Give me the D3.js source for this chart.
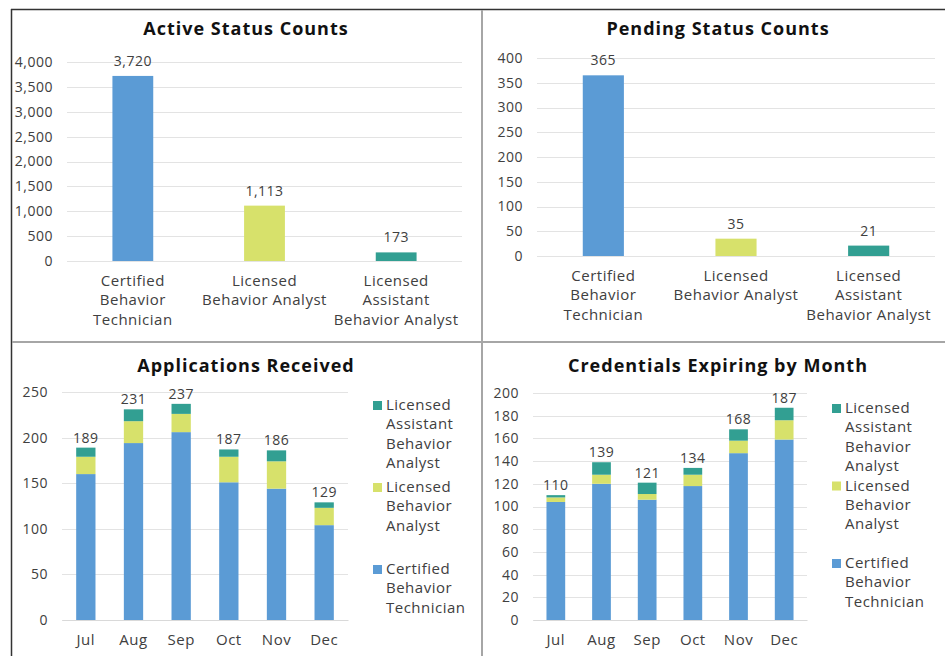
<!DOCTYPE html>
<html>
<head>
<meta charset="utf-8">
<script src="https://cdn.jsdelivr.net/npm/d3@7"></script>
<style>
  body { margin: 0; background: #fff; }
  svg text { font-family: "Open Sans", sans-serif; fill: #404040; letter-spacing: 0.5px; }
  .title { font-weight: 700; fill: #111; letter-spacing: 1px; }
  .grid line { stroke: #e3e3e3; }
</style>
</head>
<body>
<svg id="chart" width="945" height="656"></svg>
<script>
// --- data ---
const credentialTypes = ["Certified Behavior Technician", "Licensed Behavior Analyst", "Licensed Assistant Behavior Analyst"];
const axisLabelLines = [["Certified", "Behavior", "Technician"], ["Licensed", "Behavior Analyst"], ["Licensed", "Assistant", "Behavior Analyst"]];
const legendLabelLines = [["Licensed", "Assistant", "Behavior", "Analyst"], ["Licensed", "Behavior", "Analyst"], ["Certified", "Behavior", "Technician"]];

const activeCounts = [3720, 1113, 173];
const pendingCounts = [365, 35, 21];

const months = ["Jul", "Aug", "Sep", "Oct", "Nov", "Dec"];
const appsCBT = [160, 194, 206, 151, 144, 104];
const appsLBA = [19, 24, 20, 28, 30, 19];
const appsLABA = [10, 13, 11, 8, 12, 6];
const expCBT = [104, 120, 106, 118, 147, 159];
const expLBA = [4, 8, 5, 10, 11, 17];
const expLABA = [2, 11, 10, 6, 10, 11];

const colors = { "Certified Behavior Technician": "#5b9bd5", "Licensed Behavior Analyst": "#d7e16b", "Licensed Assistant Behavior Analyst": "#329f92" };

const svg = d3.select("#chart");

// panel frame
svg.append("line").attr("x1", 11).attr("x2", 945).attr("y1", 9.5).attr("y2", 9.5).attr("stroke", "#333").attr("stroke-width", 1.5);
svg.append("line").attr("x1", 11.5).attr("x2", 11.5).attr("y1", 9).attr("y2", 656).attr("stroke", "#333").attr("stroke-width", 1.5);
svg.append("line").attr("x1", 482).attr("x2", 482).attr("y1", 10).attr("y2", 656).attr("stroke", "#a6a6a6").attr("stroke-width", 2);
svg.append("line").attr("x1", 12).attr("x2", 945).attr("y1", 342).attr("y2", 342).attr("stroke", "#a6a6a6").attr("stroke-width", 2);

function yAxisGrid(g, y, x0, x1, ticks, fmt) {
  g.append("g").attr("class", "grid")
    .selectAll("line").data(ticks).join("line")
    .attr("x1", x0).attr("x2", x1)
    .attr("y1", d => Math.round(y(d)) + 0.5).attr("y2", d => Math.round(y(d)) + 0.5);
  const ax = g.append("g").attr("transform", `translate(${x0},0)`)
    .call(d3.axisLeft(y).tickValues(ticks).tickFormat(fmt).tickSize(0).tickPadding(14));
  ax.select(".domain").remove();
  ax.selectAll("text").style("font-size", "14px").attr("fill", "#404040");
}

// simple bar chart
function drawBars(p) {
  const g = svg.append("g");
  g.append("text").attr("class", "title").attr("x", p.titleX).attr("y", p.titleY)
    .attr("text-anchor", "middle").style("font-size", "18px").text(p.title);

  const x = d3.scaleBand().domain(credentialTypes).range([p.x0, p.x1]).paddingInner(0.69).paddingOuter(0.345);
  const y = d3.scaleLinear().domain(p.domain).range([p.y0, p.y1]);
  yAxisGrid(g, y, p.x0, p.x1, p.ticks, d3.format(","));

  g.selectAll("rect.bar").data(p.values).join("rect").attr("class", "bar")
    .attr("x", (d, i) => x(credentialTypes[i])).attr("width", x.bandwidth())
    .attr("y", d => y(d)).attr("height", d => y(0) - y(d))
    .attr("fill", (d, i) => colors[credentialTypes[i]]);

  g.selectAll("text.val").data(p.values).join("text").attr("class", "val")
    .attr("x", (d, i) => x(credentialTypes[i]) + x.bandwidth() / 2).attr("y", d => y(d) - 10)
    .attr("text-anchor", "middle").style("font-size", "14px").text(d3.format(","));

  // category labels
  const lab = g.selectAll("text.cat").data(axisLabelLines).join("text").attr("class", "cat")
    .attr("text-anchor", "middle").style("font-size", "15px")
    .attr("transform", (d, i) => `translate(${x(credentialTypes[i]) + x.bandwidth() / 2},${p.y0 + 25})`);
  lab.selectAll("tspan").data(d => d).join("tspan")
    .attr("x", 0).attr("dy", (d, i) => i === 0 ? 0 : 19.3).text(d => d);
}

function drawStacked(p) {
  const g = svg.append("g");
  g.append("text").attr("class", "title").attr("x", p.titleX).attr("y", p.titleY)
    .attr("text-anchor", "middle").style("font-size", "18px").text(p.title);

  const rows = months.map((m, i) => ({
    month: m,
    "Certified Behavior Technician": p.cbt[i],
    "Licensed Behavior Analyst": p.lba[i],
    "Licensed Assistant Behavior Analyst": p.laba[i]
  }));
  const series = d3.stack().keys(credentialTypes)(rows);

  const x = d3.scaleBand().domain(months).range([p.x0, p.x1]).paddingInner(p.pad).paddingOuter(p.pad / 2);
  const y = d3.scaleLinear().domain(p.domain).range([p.y0, p.y1]);
  yAxisGrid(g, y, p.x0, p.x1, p.ticks, d3.format(","));

  g.selectAll("g.series").data(series).join("g").attr("class", "series")
    .attr("fill", s => colors[s.key])
    .selectAll("rect").data(s => s).join("rect")
    .attr("x", d => x(d.data.month)).attr("width", x.bandwidth())
    .attr("y", d => y(d[1])).attr("height", d => y(d[0]) - y(d[1]));

  const totals = rows.map(r => d3.sum(credentialTypes, k => r[k]));
  g.selectAll("text.val").data(totals).join("text").attr("class", "val")
    .attr("x", (d, i) => x(months[i]) + x.bandwidth() / 2).attr("y", d => y(d) - 5)
    .attr("text-anchor", "middle").style("font-size", "14px").text(d => d);

  const xa = g.append("g").attr("transform", `translate(0,${p.y0})`)
    .call(d3.axisBottom(x).tickSize(0).tickPadding(14));
  xa.select(".domain").attr("stroke", "#d9d9d9");
  xa.selectAll("text").style("font-size", "15px").attr("fill", "#404040");

  // legend, top item is the top of the stack
  const legendKeys = credentialTypes.slice().reverse();
  const lg = g.selectAll("g.leg").data(legendKeys).join("g").attr("class", "leg")
    .attr("transform", (d, i) => `translate(${p.legX},${p.legY + i * p.legStep})`);
  lg.append("rect").attr("x", 0).attr("y", -9).attr("width", 9).attr("height", 9).attr("fill", d => colors[d]);
  lg.append("text").attr("x", 13).style("font-size", "15px")
    .selectAll("tspan").data((d, i) => legendLabelLines[i]).join("tspan")
    .attr("x", 13).attr("dy", (d, i) => i === 0 ? 0 : 19.4).text(d => d);
}

drawBars({ title: "Active Status Counts", titleX: 246, titleY: 35, values: activeCounts,
  x0: 67, x1: 462, y0: 261, y1: 62, domain: [0, 4000], ticks: d3.range(0, 4001, 500) });
drawBars({ title: "Pending Status Counts", titleX: 718, titleY: 35, values: pendingCounts,
  x0: 537, x1: 935, y0: 256, y1: 58, domain: [0, 400], ticks: d3.range(0, 401, 50) });

drawStacked({ title: "Applications Received", titleX: 246, titleY: 372, cbt: appsCBT, lba: appsLBA, laba: appsLABA,
  x0: 62, x1: 348, y0: 620, y1: 392, domain: [0, 250], ticks: d3.range(0, 251, 50), pad: 0.595,
  legX: 373, legY: 410, legStep: 82 });
drawStacked({ title: "Credentials Expiring by Month", titleX: 718, titleY: 372, cbt: expCBT, lba: expLBA, laba: expLABA,
  x0: 533, x1: 807, y0: 620, y1: 393, domain: [0, 200], ticks: d3.range(0, 201, 20), pad: 0.59,
  legX: 832, legY: 413, legStep: 77.5 });
</script>
</body>
</html>
